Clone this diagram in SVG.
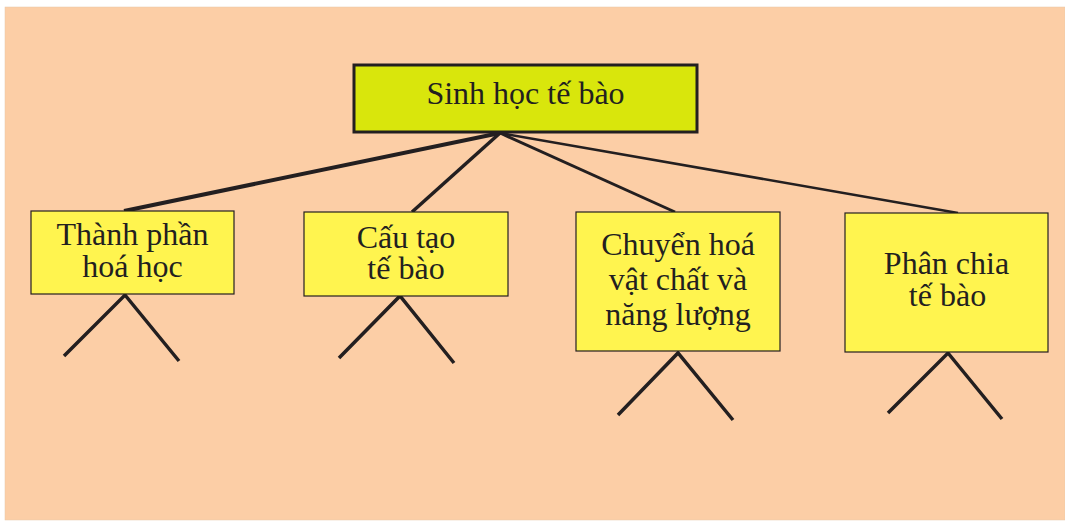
<svg xmlns="http://www.w3.org/2000/svg" width="1065" height="521" viewBox="0 0 1065 521">
<style>
.bg{fill:#fccea6;stroke:#e8c8a8;stroke-width:0.5}
.root{fill:#d9e60c;stroke:#231f20;stroke-width:3}
.box{fill:#fff44f;stroke:#231f20;stroke-width:1.2}
.t{font-family:"Liberation Serif","Times New Roman",serif;font-size:32px;fill:#231f20;text-anchor:middle}
.c{stroke:#231f20;fill:none;stroke-linecap:butt}
.leg{stroke:#231f20;stroke-width:3.5;fill:none}
</style>
<rect class="bg" x="5" y="7" width="1060" height="513"/>
<g id="connectors">
<line class="c" x1="500" y1="133" x2="124" y2="211" stroke-width="4"/>
<line class="c" x1="500" y1="133" x2="412" y2="212" stroke-width="3.5"/>
<line class="c" x1="500" y1="133" x2="675" y2="212" stroke-width="3"/>
<line class="c" x1="500" y1="133" x2="958" y2="213" stroke-width="2.5"/>
<polyline class="leg" points="64,356 125,295 179,361"/>
<polyline class="leg" points="339,358 400,296 454,363"/>
<polyline class="leg" points="618,415 678,353 733,420"/>
<polyline class="leg" points="888,413 948,353 1002,419"/>
</g>
<g id="root">
<rect class="root" x="354" y="65" width="343" height="67"/>
<text class="t" x="525.5" y="104">Sinh học tế bào</text>
</g>
<g id="n1">
<rect class="box" x="31" y="211" width="203" height="83"/>
<text class="t" x="132.5" y="245">Thành phần</text>
<text class="t" x="132.5" y="277">hoá học</text>
</g>
<g id="n2">
<rect class="box" x="304" y="212" width="204" height="84"/>
<text class="t" x="406" y="248">Cấu tạo</text>
<text class="t" x="406" y="279">tế bào</text>
</g>
<g id="n3">
<rect class="box" x="576" y="212" width="204" height="139"/>
<text class="t" x="678" y="255">Chuyển hoá</text>
<text class="t" x="678" y="290">vật chất và</text>
<text class="t" x="678" y="325">năng lượng</text>
</g>
<g id="n4">
<rect class="box" x="845" y="213" width="203" height="139"/>
<text class="t" x="946.5" y="274">Phân chia</text>
<text class="t" x="947.5" y="306">tế bào</text>
</g>
</svg>
